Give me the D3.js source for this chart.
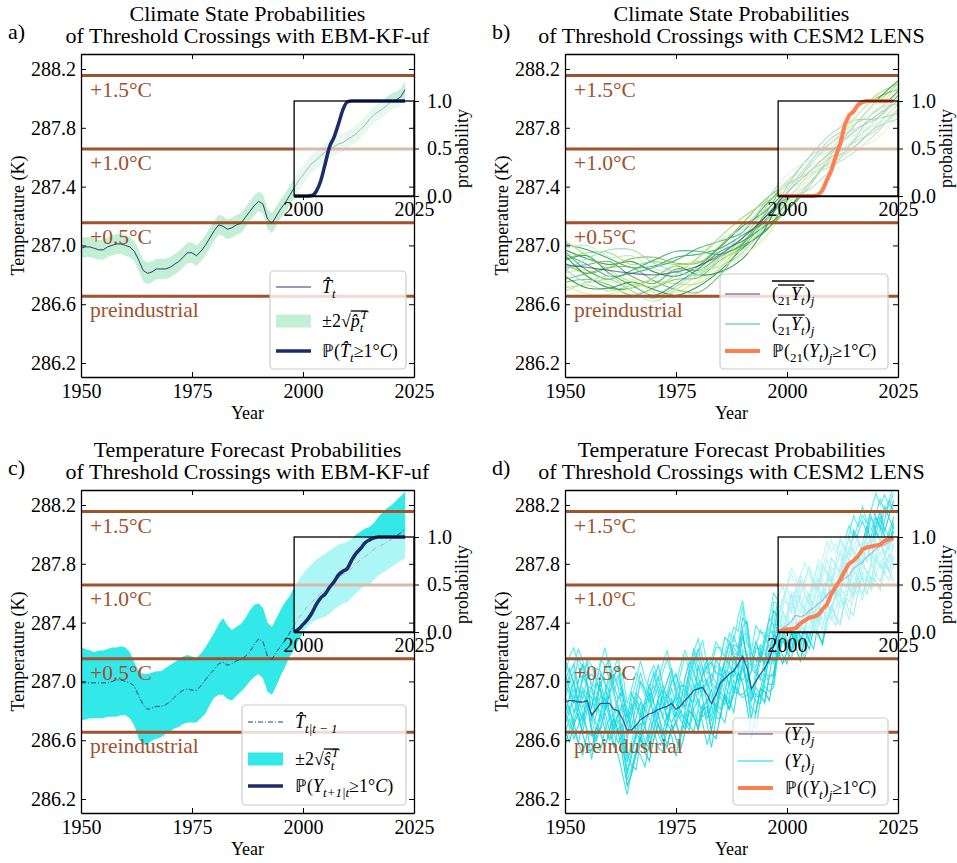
<!DOCTYPE html>
<html>
<head>
<meta charset="utf-8">
<script src="https://cdn.jsdelivr.net/npm/d3@7"></script>
<style>
  body { margin: 0; background: #fff; }
  svg text { font-family: "Liberation Serif", "Times New Roman", serif; fill: #000; }
</style>
</head>
<body>
<div id="chart"></div>
<script>
const width = 957, height = 863;
const plotW = 333, plotH = 323;

// shared axes
const xDomain = [1950, 2025];
const yDomain = [286.105, 288.302];
const xTicks = [1950, 1975, 2000, 2025];
const yTicks = [286.2, 286.6, 287.0, 287.4, 287.8, 288.2];
const insetStart = 1998;
const insetXTicks = [2000, 2025];
const probTicks = [0, 0.5, 1];

// warming thresholds (K)
const thresholds = [286.655, 287.155, 287.655, 288.155];
const thresholdLabels = ["preindustrial", "+0.5°C", "+1.0°C", "+1.5°C"];

// EBM-KF-uf, yearly 1950-2023
const kfYears = d3.range(1950, 2024);
const stateMean = [286.98, 286.99, 286.99, 286.98, 286.97, 286.97, 286.99, 287.00, 287.01, 287.01,
  287.00, 286.99, 286.96, 286.90, 286.83, 286.81, 286.82, 286.84, 286.84, 286.84,
  286.85, 286.87, 286.89, 286.92, 286.95, 286.95, 286.93, 286.96, 287.00, 287.05,
  287.10, 287.14, 287.13, 287.11, 287.12, 287.14, 287.15, 287.19, 287.23, 287.27,
  287.30, 287.28, 287.18, 287.15, 287.20, 287.25, 287.29, 287.34, 287.39, 287.44,
  287.48, 287.52, 287.56, 287.58, 287.61, 287.635, 287.655, 287.67, 287.69, 287.70,
  287.72, 287.74, 287.76, 287.79, 287.82, 287.86, 287.89, 287.91, 287.93, 287.955,
  287.98, 287.99, 288.01, 288.06];
// 2*sqrt(p) half width
const stateSpread = [0.068, 0.068, 0.068, 0.068, 0.068, 0.068, 0.068, 0.068, 0.068, 0.068,
  0.07, 0.07, 0.07, 0.072, 0.074, 0.074, 0.072, 0.07, 0.07, 0.07,
  0.07, 0.07, 0.07, 0.07, 0.07, 0.07, 0.07, 0.07, 0.07, 0.07,
  0.068, 0.068, 0.068, 0.068, 0.068, 0.068, 0.068, 0.068, 0.068, 0.068,
  0.066, 0.066, 0.068, 0.068, 0.066, 0.066, 0.066, 0.066, 0.066, 0.066,
  0.062, 0.062, 0.062, 0.062, 0.062, 0.062, 0.062, 0.062, 0.062, 0.062,
  0.058, 0.058, 0.058, 0.058, 0.058, 0.058, 0.058, 0.058, 0.058, 0.058,
  0.056, 0.056, 0.056, 0.056];
const fcMean = [286.99, 286.99, 286.99, 286.99, 286.99, 286.99, 286.99, 287.00, 287.01, 287.01,
  287.00, 286.99, 286.97, 286.90, 286.84, 286.81, 286.82, 286.83, 286.83, 286.84,
  286.86, 286.89, 286.92, 286.94, 286.95, 286.94, 286.94, 286.97, 287.01, 287.05,
  287.08, 287.12, 287.13, 287.11, 287.12, 287.14, 287.15, 287.17, 287.20, 287.25,
  287.29, 287.27, 287.17, 287.15, 287.20, 287.24, 287.28, 287.33, 287.38, 287.43,
  287.47, 287.51, 287.54, 287.57, 287.60, 287.62, 287.65, 287.68, 287.70, 287.73,
  287.75, 287.77, 287.80, 287.83, 287.85, 287.87, 287.90, 287.92, 287.93, 287.95,
  287.97, 287.99, 288.01, 288.04];
const fcUpper = [287.23, 287.22, 287.21, 287.20, 287.21, 287.21, 287.22, 287.23, 287.23, 287.24,
  287.23, 287.20, 287.13, 287.07, 287.05, 287.05, 287.06, 287.07, 287.07, 287.09,
  287.11, 287.13, 287.15, 287.17, 287.18, 287.17, 287.16, 287.19, 287.23, 287.28,
  287.33, 287.39, 287.43, 287.38, 287.35, 287.37, 287.39, 287.43, 287.48, 287.52,
  287.53, 287.50, 287.40, 287.37, 287.43, 287.49, 287.54, 287.58, 287.64, 287.69,
  287.73, 287.77, 287.80, 287.83, 287.85, 287.87, 287.89, 287.91, 287.93, 287.94,
  287.95, 287.97, 288.00, 288.02, 288.04, 288.05, 288.08, 288.12, 288.15, 288.18,
  288.20, 288.23, 288.26, 288.29];
const fcLower = [286.74, 286.74, 286.75, 286.75, 286.75, 286.75, 286.76, 286.76, 286.76, 286.77,
  286.77, 286.75, 286.70, 286.61, 286.57, 286.57, 286.60, 286.61, 286.62, 286.64,
  286.66, 286.68, 286.69, 286.71, 286.72, 286.72, 286.72, 286.75, 286.78, 286.84,
  286.89, 286.91, 286.91, 286.88, 286.87, 286.90, 286.93, 286.96, 287.00, 287.03,
  287.05, 287.02, 286.93, 286.91, 286.97, 287.04, 287.10, 287.17, 287.22, 287.28,
  287.33, 287.37, 287.40, 287.42, 287.43, 287.44, 287.46, 287.49, 287.51, 287.53,
  287.54, 287.57, 287.60, 287.63, 287.65, 287.66, 287.69, 287.72, 287.74, 287.76,
  287.78, 287.80, 287.82, 287.84];

// probability of being above +1.0°C, yearly from 1998
const stateProb = [0, 0, 0, 0, 0.005, 0.05, 0.16, 0.34, 0.52, 0.62, 0.76, 0.91, 0.99, 1, 1, 1, 1, 1, 1, 1, 1, 1, 1, 1, 1, 1];
const fcProb = [0, 0.03, 0.08, 0.13, 0.2, 0.29, 0.36, 0.4, 0.47, 0.53, 0.6, 0.64, 0.67, 0.76, 0.83, 0.88, 0.94, 0.97, 0.99, 1, 1, 1, 1, 1, 1, 1];
const lens21Prob = [0, 0, 0, 0, 0, 0, 0, 0, 0, 0.01, 0.06, 0.17, 0.27, 0.42, 0.55, 0.75, 0.85, 0.89, 0.96, 0.99, 1, 1, 1, 1, 1, 1, 1];
const lensProb = [0, 0.02, 0.03, 0.03, 0.04, 0.09, 0.12, 0.15, 0.16, 0.18, 0.24, 0.29, 0.4, 0.48, 0.55, 0.64, 0.72, 0.75, 0.8, 0.87, 0.89, 0.9, 0.91, 0.92, 0.96, 0.98, 0.99];

// CESM2 LENS 21-yr running means, every 5 years
const lens21Years = d3.range(1950, 2026, 5);
const lens21Mean = [286.87, 286.85, 286.83, 286.81, 286.80, 286.82, 286.86, 286.94, 287.05, 287.19, 287.36, 287.50, 287.64, 287.77, 287.88, 287.98];
// members as offsets from the ensemble mean, hundredths of K
const lens21Members = [
  [10, 6, 4, 8, 2, -3, 0, 5, 8, 4, 2, 6, 9, 5, 3, 7],
  [-12, -8, -10, -15, -9, -5, -8, -4, -6, -2, -5, -8, -4, -7, -10, -5],
  [4, 10, 12, 6, 9, 5, 3, -2, 0, 6, 8, 3, -1, 4, 8, 12],
  [-6, -2, -8, -4, -12, -14, -10, -6, -2, -5, -8, -3, 2, 6, 2, -3],
  [14, 12, 8, 4, 6, 10, 8, 4, 2, -3, -1, 4, 6, 2, -2, 1],
  [-3, -10, -6, -12, -16, -10, -4, -8, -10, -6, 0, 5, 3, -2, -6, -9],
  [7, 2, -4, 0, 5, 8, 12, 9, 4, 8, 5, 0, -4, -6, -3, 4],
  [-16, -12, -14, -8, -4, -8, -12, -9, -3, 0, -3, -6, -9, -4, 0, 6],
  [1, -4, 2, 10, 12, 6, 2, 6, 10, 12, 7, 10, 6, 9, 12, 8],
  [-8, -14, -12, -6, -10, -16, -14, -11, -7, -9, -12, -8, -6, -10, -8, -12],
  [11, 15, 9, 12, 4, 1, 5, 10, 6, 2, -2, -6, -2, 1, 5, 10],
  [-2, 2, 6, -2, -6, 2, -3, -1, -5, -10, -6, -2, -8, -11, -7, -2],
  [6, -6, -12, -10, -2, 4, -6, -12, -14, -8, 4, 10, 12, 8, -2, -8],
  [-10, -4, 2, 4, -4, -12, -18, -14, -4, 2, 6, -2, -10, -14, -12, -6],
  [16, 8, 0, -6, -8, -2, 6, 12, 14, 10, 2, -4, 0, 8, 14, 12],
  [-14, -18, -16, -10, -2, 4, -2, -8, -12, -14, -10, -2, 4, 0, -4, 2],
  [3, 8, -2, -8, -14, -8, -2, 2, -2, -6, -12, -10, -2, 4, 10, 14],
  [-4, 6, 14, 16, 8, 0, -6, -2, 4, 10, 12, 8, 0, -8, -6, -14],
  [9, -2, -6, 2, 10, 14, 10, 0, -4, 0, -4, -12, -12, -6, 4, -2],
  [-18, -10, -4, -12, -18, -12, -6, -2, -8, -4, 2, 0, -6, -12, -16, -10]
];
const lens21Colors = ["#1a9850", "#66bd63", "#a6d96a", "#d9ef8b", "#2ca25f", "#99d8c9",
  "#41ae76", "#b8e186", "#7fbc41", "#238b45", "#c7e9c0", "#5aae61"];

// CESM2 LENS yearly, 1950-2024
const lensYears = d3.range(1950, 2025);
const lensMean = [286.86, 286.87, 286.87, 286.86, 286.86, 286.87, 286.77, 286.81, 286.85, 286.85,
  286.85, 286.81, 286.80, 286.74, 286.67, 286.67, 286.70, 286.74, 286.76, 286.78,
  286.79, 286.81, 286.82, 286.83, 286.85, 286.81, 286.83, 286.87, 286.90, 286.94,
  286.95, 286.96, 286.91, 286.85, 286.91, 286.99, 287.02, 287.05, 287.07, 287.12,
  287.17, 287.09, 286.95, 287.00, 287.05, 287.09, 287.15, 287.24, 287.33, 287.36,
  287.38, 287.41, 287.45, 287.44, 287.45, 287.48, 287.50, 287.53, 287.55, 287.59,
  287.62, 287.64, 287.68, 287.70, 287.72, 287.77, 287.79, 287.81, 287.85, 287.87,
  287.90, 287.92, 287.93, 287.95, 287.96];
// members as offsets from the ensemble mean, hundredths of K
const lensMembers = [
  [12, 5, -8, 3, 18, 10, -4, 7, 15, 2, -10, -3, 8, 20, 14, -2, 5, 12, -6, 3, 9, 16, 4, -8, -2, 11, 6, -5, 14, 22,
   8, -3, 10, 4, -12, 1, 13, 7, -4, 9, 18, 5, -7, 2, 15, 10, -3, 6, 19, 12, 0, -8, 5, 14, 3, -6, 8, 17, 11, -2,
   4, 13, 20, 9, -4, 6, 15, 8, -3, 12, 21, 14, 5, -6, 10],
  [-15, -8, 4, -12, -20, -6, 2, -10, -18, -4, 6, -9, -16, -3, -22, -12, -5, -14, -20, -8, 3, -11, -17, -5, -13, -2, -9, -19, -7, 4,
   -10, -15, -3, -12, -6, -18, -9, 2, -14, -20, -7, -12, -1, -10, -16, -4, -11, -19, -6, 3, -13, -8, -17, -5, -12, -2, -15, -9, -20, -7,
   -13, -3, -10, -18, -6, -14, -1, -11, -16, -8, -4, -15, -9, -19, -12],
  [5, 18, 25, 10, 2, 15, 28, 20, 8, -3, 12, 24, 16, 5, -6, 10, 22, 14, 3, 18, 26, 12, 0, 9, 21, 15, 4, -4, 8, 19,
   27, 13, 6, 16, 24, 10, -2, 7, 18, 11, 26, 30, 14, 5, 12, 22, 8, -1, 10, 20, 15, 6, 17, 28, 19, 9, 2, 13, 24, 16,
   7, -3, 11, 22, 14, 26, 18, 8, 15, 25, 12, 3, 17, 28, 20],
  [-5, -18, -10, 2, -8, -22, -14, -4, 6, -12, -25, -16, -6, -20, -28, -15, -9, -2, -17, -24, -11, -5, -19, -13, -1, -10, -21, -8, 2, -14,
   -23, -12, -6, -18, -9, 3, -11, -20, -15, -7, -16, -4, -13, -22, -10, -1, -17, -26, -12, -5, -9, -19, -14, -3, -11, -21, -8, 0, -15, -24,
   -12, -6, -18, -10, -2, -13, -20, -7, -16, -25, -11, -4, -14, -9, -18],
  [20, 8, -2, 14, 26, 12, 4, 18, 10, -5, 6, 22, 30, 16, 8, 25, 14, 2, 11, 20, 6, -4, 9, 17, 24, 10, 1, 15, 23, 13,
   -1, 8, 19, 28, 15, 5, 12, 21, 9, -3, 14, 6, 20, 27, 12, 3, 16, 24, 11, -2, 7, 18, 9, 25, 14, 4, 19, 11, -1, 8,
   22, 15, 5, 17, 26, 10, 2, 13, 21, 7, 16, 24, 9, 18, 27],
  [0, -10, 8, -4, -15, 3, -8, 6, -12, -2, 10, -6, 4, -14, -20, -8, 2, -10, 6, -3, -12, 5, -7, 8, -1, -11, 3, -6, 9, -4,
   -13, 1, 7, -9, -2, 11, -5, -14, 2, -8, 5, -16, -6, 8, -3, -10, 4, -12, 1, 9, -7, -2, 10, -5, -13, 3, -8, 6, -1, -11,
   4, -6, 8, -3, -9, 2, -12, 5, -4, 7, -10, 1, -7, 3, -5],
  [-22, -12, -26, -16, -8, -20, -30, -14, -6, -18, -24, -10, -2, -16, -34, -26, -18, -8, -22, -14, -4, -17, -25, -11, -19, -9, -3, -15, -23, -13,
   -7, -20, -12, -2, -16, -24, -10, -18, -28, -14, -6, -12, -20, -8, -15, -22, -11, -3, -17, -9, -14, -21, -6, -13, -19, -10, -4, -16, -8, -12,
   -20, -14, -5, -11, -18, -9, -15, -3, -10, -17, -7, -13, -20, -8, -12],
  [8, 16, 2, -6, 10, 4, 18, 12, -2, 6, 16, 10, -4, 8, 2, 14, 20, 6, -2, 12, 18, 8, 15, 3, -4, 10, 17, 7, -1, 11,
   5, -6, 4, 13, 20, 8, 0, 10, 6, -5, 3, 12, -8, -2, 9, 16, 22, 8, 14, 5, -3, 11, 18, 8, -4, 6, 15, 10, -2, 12,
   5, -7, 4, 10, 16, 6, -3, 8, 14, -4, 6, 12, -2, 8, 14],
  [-8, 2, 14, -4, -12, 6, 12, -2, 20, 14, -6, -14, -2, 10, 4, 18, -4, -10, 8, 14, -4, 8, 12, -10, 4, -6, 14, 10, -2, -8,
   16, 4, -6, 10, -12, -4, 6, -8, 10, 4, -2, -10, 12, 22, 18, -2, 6, 8, -6, 12, 4, 18, -2, -10, 6, 12, -4, -12, 6, -2,
   10, -8, 4, 16, -6, -4, 6, -2, 10, -6, 12, 4, -8, -2, 6],
  [26, 20, 12, 30, 22, 10, 18, 28, 22, 14, 8, 18, 24, 12, 4, 14, 22, 32, 18, 8, 14, 22, 10, 2, 16, 24, 12, 6, 18, 26,
   14, 4, 10, 20, 8, -2, 12, 22, 16, 6, 14, 24, 18, 10, 20, 12, 2, 14, 24, 30, 16, 8, 18, 10, 2, 12, 20, 26, 14, 6,
   16, 8, 0, 10, 18, 12, 22, 28, 16, 6, 14, 20, 10, 4, 16],
  [-30, -20, -14, -28, -36, -22, -12, -26, -32, -18, -10, -24, -30, -38, -44, -28, -16, -24, -34, -20, -12, -26, -30, -16, -22, -32, -18, -8, -20, -28,
   -14, -24, -34, -18, -10, -22, -30, -16, -6, -20, -26, -14, -24, -32, -18, -12, -22, -28, -14, -6, -18, -26, -12, -20, -30, -16, -8, -22, -28, -14,
   -18, -26, -12, -20, -30, -16, -8, -22, -14, -24, -18, -10, -20, -26, -16],
  [18, 30, 36, 24, 14, 28, 34, 20, 26, 38, 24, 12, 22, 32, 18, 28, 36, 24, 14, 26, 32, 20, 30, 38, 22, 16, 28, 34, 24, 12,
   24, 32, 20, 30, 36, 22, 16, 28, 20, 32, 38, 26, 14, 24, 30, 20, 28, 36, 22, 16, 26, 32, 20, 28, 36, 24, 18, 30, 22, 28,
   34, 24, 30, 20, 28, 36, 26, 32, 22, 30, 38, 28, 34, 24, 32],
  [4, -6, -14, -4, 8, -2, -12, -20, -8, 4, -6, -16, -22, -10, -30, -18, -6, 4, -8, -16, -4, 6, -6, -14, -2, 8, -4, -12, -20, -6,
   4, -8, -16, -2, 6, -10, -18, -6, 2, -12, -4, 8, -2, -14, -20, -8, 2, -10, -18, -4, 6, -6, -14, -22, -8, 0, -12, -4, 8, -6,
   -16, -2, -10, 4, -8, -18, -6, 2, -12, -20, -4, 6, -8, -14, -2],
  [14, 22, 10, 2, 16, 26, 18, 6, 12, 24, 30, 16, 8, 20, 10, 2, 14, 26, 18, 8, 22, 30, 16, 6, 14, 24, 10, 2, 18, 28,
   20, 10, 24, 14, 4, 16, 28, 22, 12, 6, 20, 32, 24, 14, 8, 18, 28, 14, 6, 20, 26, 12, 4, 16, 24, 30, 18, 8, 22, 14,
   4, 18, 28, 20, 10, 24, 16, 6, 18, 30, 22, 12, 26, 16, 8],
  [-12, -4, -20, -28, -14, -2, -10, -22, -16, -6, -18, -26, -12, -4, -16, -24, -30, -14, -6, -20, -12, -2, -16, -26, -18, -8, -22, -14, -4, -18,
   -26, -12, -20, -30, -16, -6, -14, -24, -10, -20, -28, -18, -8, -4, -14, -24, -12, -20, -8, -18, -26, -14, -4, -16, -8, -20, -28, -14, -6, -18,
   -10, -22, -30, -16, -8, -20, -12, -26, -14, -6, -18, -24, -12, -20, -10],
  [2, 12, 20, 8, -4, 6, 16, 4, -6, 8, 20, 12, 2, -8, -2, 10, 18, 6, -6, 4, 14, 22, 8, -2, 10, 4, -8, 6, 16, 4,
   -4, 10, 20, 12, 0, -8, 6, 14, 24, 10, -2, 4, 16, 8, -4, 6, 18, 10, 0, -6, 8, 20, 12, 2, 14, 6, -6, 4, 16, 24,
   12, 2, -6, 8, 20, 10, 0, 14, 6, -4, 10, 18, 6, -2, 12],
  [-20, -28, -16, -8, -22, -34, -24, -12, -20, -30, -18, -6, -14, -26, -38, -30, -20, -12, -24, -32, -18, -10, -22, -28, -14, -20, -30, -22, -10, -18,
   -28, -16, -8, -20, -30, -22, -12, -24, -16, -6, -18, -26, -34, -20, -10, -16, -28, -20, -12, -24, -18, -8, -22, -30, -16, -26, -14, -20, -30, -18,
   -10, -20, -28, -14, -24, -32, -18, -10, -26, -16, -22, -30, -14, -20, -28],
  [30, 18, 24, 36, 28, 16, 22, 14, 30, 26, 16, 28, 36, 22, 12, 20, 30, 40, 26, 18, 28, 16, 24, 32, 20, 10, 22, 30, 18, 26,
   34, 20, 14, 26, 32, 24, 14, 20, 30, 22, 34, 16, 26, 38, 28, 24, 14, 30, 20, 12, 28, 36, 26, 16, 22, 30, 12, 20, 28, 36,
   26, 30, 18, 26, 34, 20, 28, 38, 24, 16, 24, 32, 22, 28, 38]
];
const lensColors = ["#00e5ee", "#22d8e8", "#30d0f0", "#3ee0d0", "#00ced1", "#48e8f0",
  "#1ee0e8", "#5ae6e0", "#00dede", "#40d8f0", "#18e8d8", "#40f0e8"];

const brown = "#a0522d", navy = "#1c2b6b", coral = "#ff7f50";

const svg = d3.select("#chart").append("svg")
  .attr("width", width)
  .attr("height", height);

// one panel: scales, clipped plot group
function makePanel(key, left, top, letter, title) {
  const x = d3.scaleLinear().domain(xDomain).range([left, left + plotW]);
  const y = d3.scaleLinear().domain(yDomain).range([top + plotH, top]);
  svg.append("clipPath").attr("id", "clip-" + key)
    .append("rect").attr("x", left).attr("y", top).attr("width", plotW).attr("height", plotH);
  const plot = svg.append("g").attr("clip-path", `url(#clip-${key})`);

  const cx = left + plotW / 2;
  svg.append("text").attr("x", cx).attr("y", top - 33.5).attr("text-anchor", "middle")
    .style("font-size", "22px").text(title[0]);
  svg.append("text").attr("x", cx).attr("y", top - 11).attr("text-anchor", "middle")
    .style("font-size", "22px").text(title[1]);
  svg.append("text").attr("x", left - 73).attr("y", top - 15)
    .style("font-size", "22px").text(letter);
  svg.append("text").attr("x", cx).attr("y", top + plotH + 42).attr("text-anchor", "middle")
    .style("font-size", "18px").text("Year");
  svg.append("text").attr("transform", `translate(${left - 57},${top + plotH / 2}) rotate(-90)`)
    .attr("text-anchor", "middle").style("font-size", "18px").text("Temperature (K)");
  return { key, left, top, x, y, plot };
}

function drawThresholds(P) {
  P.plot.selectAll(".thr").data(thresholds).enter().append("line")
    .attr("x1", P.left).attr("x2", P.left + plotW)
    .attr("y1", d => P.y(d)).attr("y2", d => P.y(d))
    .attr("stroke", brown).attr("stroke-width", 3);
  P.plot.selectAll(".thrlab").data(thresholds).enter().append("text")
    .attr("x", P.left + 9).attr("y", d => P.y(d) + 21)
    .style("font-size", "21.5px").style("fill", brown)
    .text((d, i) => thresholdLabels[i]);
}

function styleAxis(g) {
  g.attr("font-family", null).attr("font-size", null);
  g.select(".domain").attr("stroke", "#000").attr("stroke-width", 1.3);
  g.selectAll(".tick line").attr("stroke", "#000").attr("stroke-width", 1);
}

function drawFrame(P) {
  const b = P.top + plotH, r = P.left + plotW;
  svg.append("g").attr("transform", `translate(0,${b})`)
    .call(d3.axisBottom(P.x).tickValues(xTicks).tickSize(-5).tickSizeOuter(0).tickPadding(7).tickFormat(d3.format("d")))
    .call(styleAxis).selectAll("text").style("font-size", "20px");
  svg.append("g").attr("transform", `translate(0,${P.top})`)
    .call(d3.axisTop(P.x).tickValues(xTicks).tickSize(-5).tickSizeOuter(0).tickFormat(""))
    .call(styleAxis);
  svg.append("g").attr("transform", `translate(${P.left},0)`)
    .call(d3.axisLeft(P.y).tickValues(yTicks).tickSize(-5).tickSizeOuter(0).tickPadding(5).tickFormat(d3.format(".1f")))
    .call(styleAxis).selectAll("text").style("font-size", "20px");
  svg.append("g").attr("transform", `translate(${r},0)`)
    .call(d3.axisRight(P.y).tickValues(yTicks).tickSize(-5).tickSizeOuter(0).tickFormat(""))
    .call(styleAxis);
}

// probability inset sharing the main year axis
function drawInset(P, probs, color, lw, curve) {
  const x0 = P.x(insetStart), x1 = P.left + plotW;
  const top = P.top + 47, bot = P.top + 142;
  const ix = d3.scaleLinear().domain([insetStart, xDomain[1]]).range([x0, x1]);
  const iy = d3.scaleLinear().domain([0, 1]).range([bot, top]);
  const g = svg.append("g");
  g.append("rect").attr("x", x0).attr("y", top).attr("width", x1 - x0).attr("height", bot - top)
    .attr("fill", "#fff").attr("fill-opacity", 0.6);
  g.append("path")
    .datum(probs.map((p, i) => [insetStart + i, p]))
    .attr("fill", "none").attr("stroke", color).attr("stroke-width", lw)
    .attr("stroke-linejoin", "round")
    .attr("d", d3.line().x(d => ix(d[0])).y(d => iy(d[1])).curve(curve));
  g.append("rect").attr("x", x0).attr("y", top).attr("width", x1 - x0).attr("height", bot - top)
    .attr("fill", "none").attr("stroke", "#000").attr("stroke-width", 1.3);
  g.append("g").attr("transform", `translate(0,${bot})`)
    .call(d3.axisBottom(ix).tickValues(insetXTicks).tickSize(4).tickSizeOuter(0).tickPadding(2).tickFormat(d3.format("d")))
    .call(styleAxis).selectAll("text").style("font-size", "20px");
  g.append("g").attr("transform", `translate(${x1},0)`)
    .call(d3.axisRight(iy).tickValues(probTicks).tickSize(5).tickSizeOuter(0).tickPadding(8).tickFormat(d3.format(".1f")))
    .call(styleAxis).selectAll("text").style("font-size", "20px");
  g.append("text").attr("transform", `translate(${x1 + 54},${(top + bot) / 2}) rotate(-90)`)
    .attr("text-anchor", "middle").style("font-size", "18px").text("probability");
}

// legend label with simple sub/superscripts and overlines
function mathText(g, x, y, parts, over) {
  const size = 18;
  const t = g.append("text").attr("x", x).attr("y", y).style("font-size", size + "px");
  let cur = 0;
  const nodes = parts.map(p => {
    const off = p.sub ? 5 : p.sup ? -8 : 0;
    const s = t.append("tspan").attr("dy", off - cur)
      .style("font-style", p.i ? "italic" : "normal")
      .style("font-size", (p.sub || p.sup ? 13 : size) + "px")
      .text(p.t);
    if (p.dx) s.attr("dx", p.dx);
    cur = off;
    return s.node();
  });
  Object.entries(over || {}).forEach(([k, dy]) => {
    let a = Infinity, b = -Infinity;
    parts.forEach((p, i) => {
      if (!(p.o || []).includes(+k)) return;
      const n = nodes[i];
      const s = n.getStartPositionOfChar(0).x;
      a = Math.min(a, s);
      b = Math.max(b, s + n.getComputedTextLength());
    });
    g.append("line").attr("x1", a).attr("x2", b).attr("y1", y + dy).attr("y2", y + dy)
      .attr("stroke", "#000").attr("stroke-width", 1.3);
  });
}

function drawLegend(P, box, rows) {
  const g = svg.append("g").attr("transform", `translate(${P.left},${P.top})`);
  g.append("rect").attr("x", box.x).attr("y", box.y).attr("width", box.w).attr("height", box.h)
    .attr("rx", 4).attr("fill", "#fff").attr("fill-opacity", 0.8)
    .attr("stroke", "#ccc").attr("stroke-width", 1.2);
  rows.forEach(r => {
    if (r.kind === "rect") {
      g.append("rect").attr("x", box.sx).attr("y", r.y - 6.5).attr("width", 35).attr("height", 13).attr("fill", r.color);
    } else {
      g.append("line").attr("x1", box.sx).attr("x2", box.sx + 35).attr("y1", r.y).attr("y2", r.y)
        .attr("stroke", r.color).attr("stroke-width", r.width)
        .attr("stroke-opacity", r.opacity || 1)
        .attr("stroke-dasharray", r.dash || null);
    }
    mathText(g, box.tx, r.y + 6, r.parts, r.over);
  });
}

const lineGen = (P, curve) => d3.line().x(d => P.x(d[0])).y(d => P.y(d[1])).curve(curve || d3.curveLinear);

// ---- a) EBM-KF-uf state ----
const A = makePanel("a", 81, 54, "a)", ["Climate State Probabilities", "of Threshold Crossings with EBM-KF-uf"]);
A.plot.append("path")
  .datum(kfYears.map((yr, i) => [yr, stateMean[i] - stateSpread[i], stateMean[i] + stateSpread[i]]))
  .attr("fill", "#c3efd5")
  .attr("d", d3.area().x(d => A.x(d[0])).y0(d => A.y(d[1])).y1(d => A.y(d[2])));
drawThresholds(A);
A.plot.append("path").datum(kfYears.map((yr, i) => [yr, stateMean[i]]))
  .attr("fill", "none").attr("stroke", "#2b3a7a").attr("stroke-width", 1)
  .attr("d", lineGen(A));
drawInset(A, stateProb, navy, 3.5, d3.curveMonotoneX);
drawFrame(A);
drawLegend(A, { x: 189, y: 217, w: 136, h: 98, sx: 195, tx: 241 }, [
  { kind: "line", color: "#2b3a7a", width: 1, y: 233,
    parts: [{ t: "T\u0302", i: 1 }, { t: "t", i: 1, sub: 1 }] },
  { kind: "rect", color: "#c3efd5", y: 267,
    parts: [{ t: "±2√" }, { t: "p\u0302", i: 1, o: [1] }, { t: "t", i: 1, sub: 1, o: [1] }, { t: "T", i: 1, sup: 1, dx: -3, o: [1] }],
    over: { 1: -16 } },
  { kind: "line", color: navy, width: 3.5, y: 297,
    parts: [{ t: "ℙ(" }, { t: "T\u0302", i: 1 }, { t: "t", i: 1, sub: 1 }, { t: "≥1°" }, { t: "C", i: 1 }, { t: ")" }] }
]);

// ---- b) CESM2 LENS 21-yr means ----
const B = makePanel("b", 565, 54, "b)", ["Climate State Probabilities", "of Threshold Crossings with CESM2 LENS"]);
lens21Members.forEach((m, j) => {
  B.plot.append("path")
    .datum(lens21Years.map((yr, k) => [yr, lens21Mean[k] + m[k] / 100]))
    .attr("fill", "none").attr("stroke", lens21Colors[j % lens21Colors.length])
    .attr("stroke-width", 1.1).attr("stroke-opacity", 0.9)
    .attr("d", lineGen(B, d3.curveCatmullRom));
});
drawThresholds(B);
B.plot.append("path").datum(lens21Years.map((yr, k) => [yr, lens21Mean[k]]))
  .attr("fill", "none").attr("stroke", "#1a237e").attr("stroke-opacity", 0.55).attr("stroke-width", 1.3)
  .attr("d", lineGen(B, d3.curveCatmullRom));
drawInset(B, lens21Prob, coral, 4, d3.curveLinear);
drawFrame(B);
drawLegend(B, { x: 155, y: 220, w: 168, h: 95, sx: 160, tx: 207 }, [
  { kind: "line", color: "#1a237e", opacity: 0.55, width: 1.3, y: 240,
    parts: [{ t: "(", o: [1] }, { t: "21", sub: 1, o: [1, 2] }, { t: "Y", i: 1, o: [1, 2] }, { t: "t", i: 1, sub: 1, o: [1, 2] }, { t: ")", o: [1] }, { t: "j", i: 1, sub: 1, o: [1] }],
    over: { 1: -19, 2: -15 } },
  { kind: "line", color: "#78dca0", width: 1.3, y: 270,
    parts: [{ t: "(" }, { t: "21", sub: 1, o: [2] }, { t: "Y", i: 1, o: [2] }, { t: "t", i: 1, sub: 1, o: [2] }, { t: ")" }, { t: "j", i: 1, sub: 1 }],
    over: { 2: -15 } },
  { kind: "line", color: coral, width: 4, y: 297,
    parts: [{ t: "ℙ(" }, { t: "21", sub: 1 }, { t: "(" }, { t: "Y", i: 1 }, { t: "t", i: 1, sub: 1 }, { t: ")" }, { t: "j", i: 1, sub: 1 }, { t: "≥1°" }, { t: "C", i: 1 }, { t: ")" }] }
]);

// ---- c) EBM-KF-uf forecast ----
const C = makePanel("c", 81, 490, "c)", ["Temperature Forecast Probabilities", "of Threshold Crossings with EBM-KF-uf"]);
C.plot.append("path")
  .datum(kfYears.map((yr, i) => [yr, fcLower[i], fcUpper[i]]))
  .attr("fill", "#33e8e8")
  .attr("d", d3.area().x(d => C.x(d[0])).y0(d => C.y(d[1])).y1(d => C.y(d[2])));
drawThresholds(C);
C.plot.append("path").datum(kfYears.map((yr, i) => [yr, fcMean[i]]))
  .attr("fill", "none").attr("stroke", "#2b3a7a").attr("stroke-width", 1)
  .attr("stroke-dasharray", "5,2,1,2")
  .attr("d", lineGen(C));
drawInset(C, fcProb, navy, 3.5, d3.curveMonotoneX);
drawFrame(C);
drawLegend(C, { x: 161, y: 215, w: 164, h: 100, sx: 167, tx: 214 }, [
  { kind: "line", color: "#2b3a7a", width: 1, dash: "5,2,1,2", y: 232,
    parts: [{ t: "T\u0302", i: 1 }, { t: "t|t − 1", i: 1, sub: 1 }] },
  { kind: "rect", color: "#33e8e8", y: 269,
    parts: [{ t: "±2√" }, { t: "s\u0302", i: 1, o: [1] }, { t: "t", i: 1, sub: 1, o: [1] }, { t: "T", i: 1, sup: 1, dx: -3, o: [1] }],
    over: { 1: -16 } },
  { kind: "line", color: navy, width: 3.5, y: 296,
    parts: [{ t: "ℙ(" }, { t: "Y", i: 1 }, { t: "t+1|t", i: 1, sub: 1 }, { t: "≥1°" }, { t: "C", i: 1 }, { t: ")" }] }
]);

// ---- d) CESM2 LENS yearly ----
const D = makePanel("d", 565, 490, "d)", ["Temperature Forecast Probabilities", "of Threshold Crossings with CESM2 LENS"]);
lensMembers.forEach((m, j) => {
  D.plot.append("path")
    .datum(lensYears.map((yr, k) => [yr, lensMean[k] + m[k] / 100]))
    .attr("fill", "none").attr("stroke", lensColors[j % lensColors.length])
    .attr("stroke-width", 1.1).attr("stroke-opacity", 0.9)
    .attr("d", lineGen(D));
});
drawThresholds(D);
D.plot.append("path").datum(lensYears.map((yr, k) => [yr, lensMean[k]]))
  .attr("fill", "none").attr("stroke", "#1a237e").attr("stroke-opacity", 0.75).attr("stroke-width", 1.3)
  .attr("d", lineGen(D));
drawInset(D, lensProb, coral, 4, d3.curveLinear);
drawFrame(D);
drawLegend(D, { x: 168, y: 228, w: 155, h: 87, sx: 173, tx: 220 }, [
  { kind: "line", color: "#1a237e", opacity: 0.55, width: 1.3, y: 244,
    parts: [{ t: "(", o: [1] }, { t: "Y", i: 1, o: [1] }, { t: "t", i: 1, sub: 1, o: [1] }, { t: ")", o: [1] }, { t: "j", i: 1, sub: 1, o: [1] }],
    over: { 1: -16 } },
  { kind: "line", color: "#55e6f0", width: 1.3, y: 271,
    parts: [{ t: "(" }, { t: "Y", i: 1 }, { t: "t", i: 1, sub: 1 }, { t: ")" }, { t: "j", i: 1, sub: 1 }] },
  { kind: "line", color: coral, width: 4, y: 298,
    parts: [{ t: "ℙ((" }, { t: "Y", i: 1 }, { t: "t", i: 1, sub: 1 }, { t: ")" }, { t: "j", i: 1, sub: 1 }, { t: "≥1°" }, { t: "C", i: 1 }, { t: ")" }] }
]);
</script>
</body>
</html>
